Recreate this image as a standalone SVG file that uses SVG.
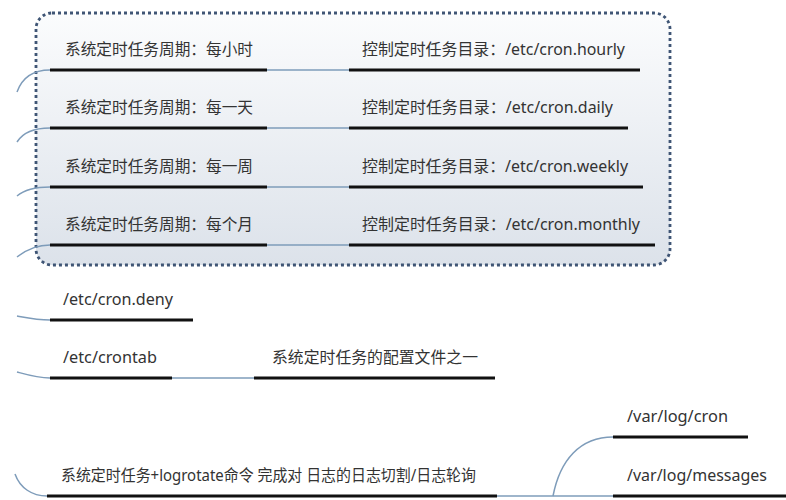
<svg xmlns="http://www.w3.org/2000/svg" width="786" height="500" viewBox="0 0 786 500">
<defs>
<linearGradient id="boxg" x1="0" y1="0" x2="0" y2="1">
<stop offset="0" stop-color="#fbfcfd"/>
<stop offset="1" stop-color="#dce2ea"/>
</linearGradient>
</defs>
<style>
text{font-family:"Noto Sans","Noto Sans CJK SC",sans-serif;font-size:15.7px;fill:#333}
.ul{stroke:#111;stroke-width:3.2;fill:none}
.cn{stroke:#7e9cba;stroke-width:1.5;fill:none}
</style>
<rect width="786" height="500" fill="#fff"/>
<rect id="group-box" x="36" y="13" width="634" height="252" rx="16" fill="url(#boxg)" stroke="#3f5575" stroke-width="2.8" stroke-dasharray="3 3"/>
<g id="connectors">
<path class="cn" d="M17,92 C22,78 32,70 50,70"/>
<path class="cn" d="M17,142 C22,134 32,128 50,128"/>
<path class="cn" d="M17,196 C24,190 34,187 50,187"/>
<path class="cn" d="M17,257 C26,250 36,245 50,245"/>
<path class="cn" d="M17,316 C28,318 38,320 50,320"/>
<path class="cn" d="M17,372 C28,375 38,378 50,378"/>
<path class="cn" d="M15,474 C20,488 32,496 47,496"/>
<path class="cn" d="M267,70 L349,70"/>
<path class="cn" d="M267,128 L349,128"/>
<path class="cn" d="M267,187 L349,187"/>
<path class="cn" d="M267,245 L349,245"/>
<path class="cn" d="M172,378 L254,378"/>
<path class="cn" d="M497,496 L613,496"/>
<path class="cn" d="M553,496 C560,460 580,437 613,437"/>
</g>
<g id="n-hourly-period"><text x="65" y="55" textLength="188" lengthAdjust="spacingAndGlyphs">系统定时任务周期：每小时</text><line class="ul" x1="50" y1="70" x2="267" y2="70"/></g>
<g id="n-hourly-dir"><text x="362" y="55" textLength="263" lengthAdjust="spacingAndGlyphs">控制定时任务目录：/etc/cron.hourly</text><line class="ul" x1="349" y1="70" x2="640" y2="70"/></g>
<g id="n-daily-period"><text x="65" y="113" textLength="188" lengthAdjust="spacingAndGlyphs">系统定时任务周期：每一天</text><line class="ul" x1="50" y1="128" x2="267" y2="128"/></g>
<g id="n-daily-dir"><text x="362" y="113" textLength="251" lengthAdjust="spacingAndGlyphs">控制定时任务目录：/etc/cron.daily</text><line class="ul" x1="349" y1="128" x2="628" y2="128"/></g>
<g id="n-weekly-period"><text x="65" y="172" textLength="188" lengthAdjust="spacingAndGlyphs">系统定时任务周期：每一周</text><line class="ul" x1="50" y1="187" x2="267" y2="187"/></g>
<g id="n-weekly-dir"><text x="362" y="172" textLength="266" lengthAdjust="spacingAndGlyphs">控制定时任务目录：/etc/cron.weekly</text><line class="ul" x1="349" y1="187" x2="643" y2="187"/></g>
<g id="n-monthly-period"><text x="65" y="230" textLength="188" lengthAdjust="spacingAndGlyphs">系统定时任务周期：每个月</text><line class="ul" x1="50" y1="245" x2="267" y2="245"/></g>
<g id="n-monthly-dir"><text x="362" y="230" textLength="278" lengthAdjust="spacingAndGlyphs">控制定时任务目录：/etc/cron.monthly</text><line class="ul" x1="349" y1="245" x2="655" y2="245"/></g>
<g id="n-deny"><text x="63" y="305" textLength="110" lengthAdjust="spacingAndGlyphs">/etc/cron.deny</text><line class="ul" x1="50" y1="320" x2="193" y2="320"/></g>
<g id="n-crontab"><text x="63" y="363" textLength="94" lengthAdjust="spacingAndGlyphs">/etc/crontab</text><line class="ul" x1="50" y1="378" x2="172" y2="378"/></g>
<g id="n-crontab-desc"><text x="272" y="363" textLength="206" lengthAdjust="spacingAndGlyphs">系统定时任务的配置文件之一</text><line class="ul" x1="254" y1="378" x2="495" y2="378"/></g>
<g id="n-logrotate"><text x="61" y="481" textLength="415" lengthAdjust="spacingAndGlyphs">系统定时任务+logrotate命令 完成对 日志的日志切割/日志轮询</text><line class="ul" x1="47" y1="496" x2="497" y2="496"/></g>
<g id="n-varlogcron"><text x="627" y="422" textLength="101" lengthAdjust="spacingAndGlyphs">/var/log/cron</text><line class="ul" x1="613" y1="437" x2="748" y2="437"/></g>
<g id="n-varlogmessages"><text x="627" y="481" textLength="140" lengthAdjust="spacingAndGlyphs">/var/log/messages</text><line class="ul" x1="613" y1="496" x2="786" y2="496"/></g>
</svg>
